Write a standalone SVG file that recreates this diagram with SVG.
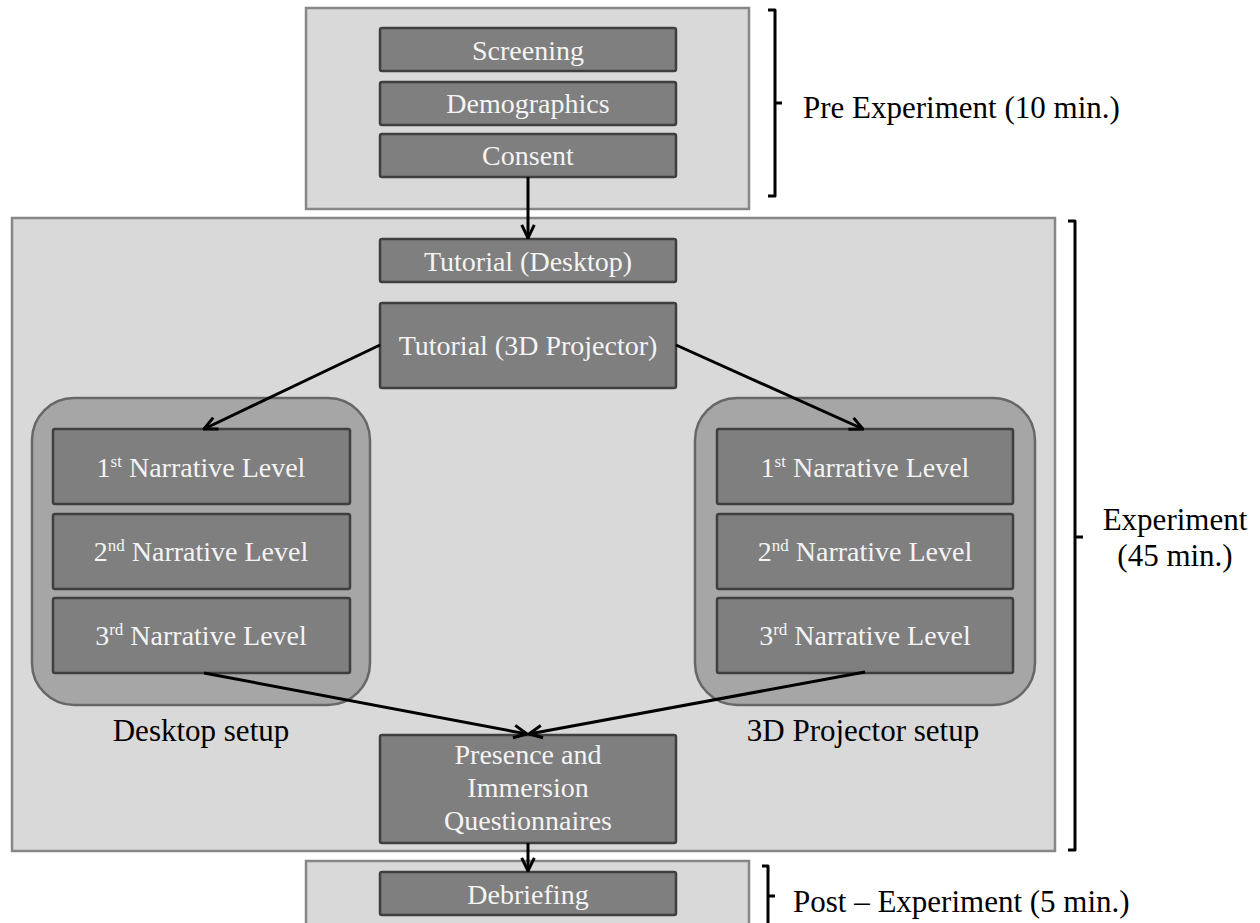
<svg xmlns="http://www.w3.org/2000/svg" width="1260" height="923" viewBox="0 0 1260 923">
<style>
.phase{fill:#d9d9d9;stroke:#878787;stroke-width:2.5}
.box{fill:#7f7f7f;stroke:#3f3f3f;stroke-width:2.5}
.grp{fill:#a6a6a6;stroke:#676767;stroke-width:2.5}
.t{font-family:"Liberation Serif","Times New Roman",serif;font-size:28px;fill:#f4f4f4;text-anchor:middle}
.sup{font-size:17px}
.lbl{font-family:"Liberation Serif","Times New Roman",serif;font-size:31px;fill:#000}
.br{fill:none;stroke:#000;stroke-width:3;stroke-linejoin:round}
.con{fill:none;stroke:#000;stroke-width:3}
</style>
<defs>
<marker id="ah" viewBox="0 0 14 14" refX="13" refY="7" markerWidth="16" markerHeight="16" markerUnits="userSpaceOnUse" orient="auto">
<path d="M1.5,1.5 L13,7 L1.5,12.5" fill="none" stroke="#000" stroke-width="2.6"/>
</marker>
</defs>
<rect width="1260" height="923" fill="#fff"/>

<g id="pre-phase">
<rect class="phase" x="306" y="8" width="443" height="201"/>
</g>
<g id="experiment-phase">
<rect class="phase" x="12" y="218" width="1043" height="633"/>
</g>
<g id="post-phase">
<rect class="phase" x="306" y="861" width="443" height="70"/>
</g>

<g id="screening"><rect class="box" x="380" y="28" width="296" height="43" rx="2"/><text class="t" x="528" y="60">Screening</text></g>
<g id="demographics"><rect class="box" x="380" y="82" width="296" height="43" rx="2"/><text class="t" x="528" y="113">Demographics</text></g>
<g id="consent"><rect class="box" x="380" y="134" width="296" height="43" rx="2"/><text class="t" x="528" y="165">Consent</text></g>

<g id="tutorial-desktop"><rect class="box" x="380" y="239" width="296" height="43" rx="2"/><text class="t" x="528" y="271">Tutorial (Desktop)</text></g>
<g id="tutorial-3d"><rect class="box" x="380" y="303" width="296" height="85" rx="2"/><text class="t" x="528" y="355">Tutorial (3D Projector)</text></g>

<g id="desktop-setup">
<rect class="grp" x="32" y="398" width="338" height="307" rx="42"/>
<text class="lbl" x="201" y="741" text-anchor="middle">Desktop setup</text>
</g>
<g id="desktop-l1"><rect class="box" x="53" y="429" width="297" height="75" rx="2"/><text class="t" x="201" y="477">1<tspan class="sup" dy="-10">st</tspan><tspan dy="10"> Narrative Level</tspan></text></g>
<g id="desktop-l2"><rect class="box" x="53" y="514" width="297" height="75" rx="2"/><text class="t" x="201" y="561">2<tspan class="sup" dy="-10">nd</tspan><tspan dy="10"> Narrative Level</tspan></text></g>
<g id="desktop-l3"><rect class="box" x="53" y="598" width="297" height="75" rx="2"/><text class="t" x="201" y="645">3<tspan class="sup" dy="-10">rd</tspan><tspan dy="10"> Narrative Level</tspan></text></g>

<g id="projector-setup">
<rect class="grp" x="695" y="398" width="340" height="307" rx="42"/>
<text class="lbl" x="863" y="741" text-anchor="middle">3D Projector setup</text>
</g>
<g id="projector-l1"><rect class="box" x="717" y="429" width="296" height="75" rx="2"/><text class="t" x="865" y="477">1<tspan class="sup" dy="-10">st</tspan><tspan dy="10"> Narrative Level</tspan></text></g>
<g id="projector-l2"><rect class="box" x="717" y="514" width="296" height="75" rx="2"/><text class="t" x="865" y="561">2<tspan class="sup" dy="-10">nd</tspan><tspan dy="10"> Narrative Level</tspan></text></g>
<g id="projector-l3"><rect class="box" x="717" y="598" width="296" height="75" rx="2"/><text class="t" x="865" y="645">3<tspan class="sup" dy="-10">rd</tspan><tspan dy="10"> Narrative Level</tspan></text></g>

<g id="questionnaires"><rect class="box" x="380" y="735" width="296" height="108" rx="2"/>
<text class="t" x="528" y="764">Presence and</text>
<text class="t" x="528" y="797">Immersion</text>
<text class="t" x="528" y="830">Questionnaires</text></g>

<g id="debriefing"><rect class="box" x="380" y="872" width="296" height="43" rx="2"/><text class="t" x="528" y="904">Debriefing</text></g>

<g id="brackets">
<path class="br" d="M768,10 L775,10 L775,196 L768,196 M775,103 L782,103"/>
<path class="br" d="M1068,221 L1075,221 L1075,850 L1068,850 M1075,537 L1083,537"/>
<path class="br" d="M762,866 L768,866 L768,930 M768,896 L775,896"/>
</g>
<g id="phase-labels">
<text class="lbl" x="803" y="118">Pre Experiment (10 min.)</text>
<text class="lbl" x="1175" y="530" text-anchor="middle">Experiment</text>
<text class="lbl" x="1175" y="566" text-anchor="middle">(45 min.)</text>
<text class="lbl" x="793" y="912">Post – Experiment (5 min.)</text>
</g>

<g id="connectors">
<line class="con" x1="528" y1="177" x2="528" y2="238" marker-end="url(#ah)"/>
<line class="con" x1="380" y1="345" x2="204" y2="429" marker-end="url(#ah)"/>
<line class="con" x1="676" y1="345" x2="863" y2="429" marker-end="url(#ah)"/>
<line class="con" x1="204" y1="673" x2="527" y2="734" marker-end="url(#ah)"/>
<line class="con" x1="865" y1="672" x2="529" y2="734" marker-end="url(#ah)"/>
<line class="con" x1="528" y1="843" x2="528" y2="871" marker-end="url(#ah)"/>
</g>
</svg>
